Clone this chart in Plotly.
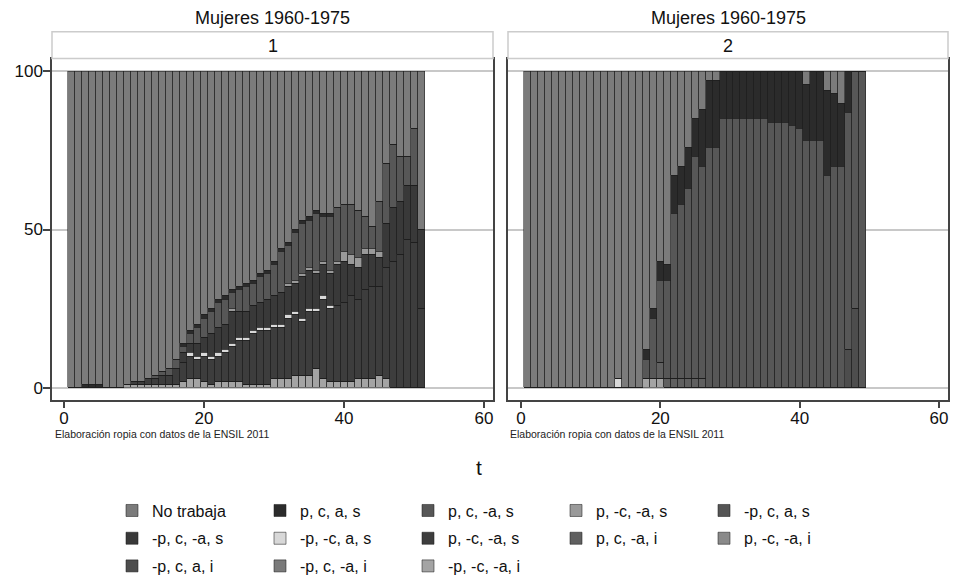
import plotly.graph_objects as go

# ---------------- data ----------------
categories = ["No trabaja", "p, c, a, s", "p, c, -a, s", "p, -c, -a, s", "-p, c, a, s",
              "-p, c, -a, s", "-p, -c, a, s", "p, -c, -a, s", "p, c, -a, i", "p, -c, -a, i",
              "-p, c, a, i", "-p, c, -a, i", "-p, -c, -a, i"]
colors = ["#7b7b7b", "#2b2b2b", "#575757", "#9a9a9a", "#555555",
          "#393939", "#d8d8d8", "#3d3d3d", "#606060", "#8a8a8a",
          "#4d4d4d", "#7a7a7a", "#a4a4a4"]

t_panel1 = list(range(1, 52))
t_panel2 = list(range(1, 50))
x_ticks = [0, 20, 40, 60]
y_ticks = [0, 50, 100]
panel_titles = ["Mujeres 1960-1975", "Mujeres 1960-1975"]
panel_labels = ["1", "2"]
note_text = "Elaboración ropia con datos de la ENSIL 2011"
x_title = "t"

# Panel 1 (cluster 1), percentages per state, t = 1..51
p1_c01 = [100, 100, 99, 99, 99, 100, 100, 100, 99, 98, 98, 97, 96, 95, 94, 91, 86, 82, 80, 77,
          75, 72, 71, 69, 68, 67, 66, 64, 63, 60, 56, 54, 50, 47, 46, 44, 45, 45, 43, 42,
          42, 44, 46, 49, 41, 29, 23, 27, 27, 18, 50]
p1_c02 = [0, 0, 1, 1, 1, 0, 0, 0, 0, 0, 0, 0, 0, 0, 0, 0, 1, 1, 1, 1,
          1, 1, 1, 1, 1, 1, 1, 1, 1, 1, 1, 1, 1, 1, 1, 1, 1, 1, 0, 0,
          0, 0, 0, 0, 0, 0, 0, 0, 0, 0, 0]
p1_c03 = [0, 0, 0, 0, 0, 0, 0, 0, 0, 0, 0, 0, 1, 1, 2, 3, 2, 3, 5, 6,
          7, 8, 8, 5, 7, 8, 7, 8, 8, 10, 13, 12, 15, 16, 15, 18, 14, 17, 17, 15,
          16, 15, 10, 7, 16, 19, 20, 14, 9, 18, 0]
p1_c04 = [0, 0, 0, 0, 0, 0, 0, 0, 0, 0, 0, 0, 0, 0, 0, 0, 0, 0, 0, 0,
          0, 0, 0, 1, 0, 0, 0, 0, 0, 0, 0, 1, 1, 1, 1, 1, 1, 1, 1, 3,
          3, 3, 2, 2, 2, 0, 0, 0, 0, 0, 0]
p1_c05 = [0] * 51
p1_c06 = [0, 0, 0, 0, 0, 0, 0, 0, 0, 0, 0, 0, 0, 0, 0, 0, 3, 3, 4, 5,
          7, 8, 8, 10, 8, 8, 8, 8, 9, 9, 10, 9, 9, 13, 12, 11, 10, 10, 13, 13,
          10, 10, 11, 10, 9, 14, 17, 17, 17, 18, 25]
p1_c07 = [0, 0, 0, 0, 0, 0, 0, 0, 0, 0, 0, 0, 0, 0, 0, 0, 0, 1, 1, 1,
          1, 1, 1, 1, 1, 1, 1, 1, 1, 1, 1, 1, 1, 1, 1, 1, 1, 1, 0, 0,
          0, 0, 0, 0, 0, 0, 0, 0, 0, 0, 0]
p1_c08 = [0, 0, 0, 0, 0, 0, 0, 0, 0, 1, 1, 2, 2, 3, 3, 5, 6, 7, 6, 8,
          8, 8, 9, 11, 13, 14, 16, 17, 17, 16, 16, 19, 19, 17, 20, 18, 25, 23, 24, 25,
          27, 25, 28, 29, 28, 35, 40, 42, 47, 46, 25]
p1_c09 = [0] * 51
p1_c10 = [0] * 51
p1_c11 = [0] * 51
p1_c12 = [0] * 51
p1_c13 = [0, 0, 0, 0, 0, 0, 0, 0, 1, 1, 1, 1, 1, 1, 1, 1, 2, 3, 3, 2,
          1, 2, 2, 2, 2, 1, 1, 1, 1, 3, 3, 3, 4, 4, 4, 6, 3, 2, 2, 2,
          2, 3, 3, 3, 4, 3, 0, 0, 0, 0, 0]

# Panel 2 (cluster 2), t = 1..49
p2_c01 = [100, 100, 100, 100, 100, 100, 100, 100, 100, 100, 100, 100, 100, 97, 100, 100, 100, 88, 75, 60,
          61, 33, 30, 24, 15, 12, 3, 3, 0, 0, 0, 0, 0, 0, 0, 0, 0, 0, 0, 0,
          4, 0, 0, 6, 7, 10, 0, 0, 0]
p2_c02 = [0, 0, 0, 0, 0, 0, 0, 0, 0, 0, 0, 0, 0, 0, 0, 0, 0, 3, 3, 6,
          5, 12, 12, 13, 12, 18, 21, 21, 15, 15, 15, 15, 15, 15, 15, 16, 16, 16, 17, 18,
          18, 22, 22, 27, 23, 20, 13, 0, 0]
p2_c03 = [0, 0, 0, 0, 0, 0, 0, 0, 0, 0, 0, 0, 0, 0, 0, 0, 0, 6, 19, 26,
          31, 52, 55, 60, 70, 67, 76, 76, 85, 85, 85, 85, 85, 85, 85, 84, 84, 84, 83, 82,
          78, 78, 78, 67, 70, 70, 75, 75, 100]
p2_c04 = [0] * 49
p2_c05 = [0] * 49
p2_c06 = [0] * 49
p2_c07 = [0, 0, 0, 0, 0, 0, 0, 0, 0, 0, 0, 0, 0, 3, 0, 0, 0, 0, 0, 0,
          0, 0, 0, 0, 0, 0, 0, 0, 0, 0, 0, 0, 0, 0, 0, 0, 0, 0, 0, 0,
          0, 0, 0, 0, 0, 0, 0, 0, 0]
p2_c08 = [0] * 49
p2_c09 = [0, 0, 0, 0, 0, 0, 0, 0, 0, 0, 0, 0, 0, 0, 0, 0, 0, 0, 0, 5,
          3, 3, 3, 3, 3, 3, 0, 0, 0, 0, 0, 0, 0, 0, 0, 0, 0, 0, 0, 0,
          0, 0, 0, 0, 0, 0, 0, 0, 0]
p2_c10 = [0] * 49
p2_c11 = [0, 0, 0, 0, 0, 0, 0, 0, 0, 0, 0, 0, 0, 0, 0, 0, 0, 0, 0, 0,
          0, 0, 0, 0, 0, 0, 0, 0, 0, 0, 0, 0, 0, 0, 0, 0, 0, 0, 0, 0,
          0, 0, 0, 0, 0, 0, 12, 25, 0]
p2_c12 = [0] * 49
p2_c13 = [0, 0, 0, 0, 0, 0, 0, 0, 0, 0, 0, 0, 0, 0, 0, 0, 0, 3, 3, 3,
          0, 0, 0, 0, 0, 0, 0, 0, 0, 0, 0, 0, 0, 0, 0, 0, 0, 0, 0, 0,
          0, 0, 0, 0, 0, 0, 0, 0, 0]

panel1 = [p1_c01, p1_c02, p1_c03, p1_c04, p1_c05, p1_c06, p1_c07,
          p1_c08, p1_c09, p1_c10, p1_c11, p1_c12, p1_c13]
panel2 = [p2_c01, p2_c02, p2_c03, p2_c04, p2_c05, p2_c06, p2_c07,
          p2_c08, p2_c09, p2_c10, p2_c11, p2_c12, p2_c13]

# ---------------- figure ----------------
W, H = 958, 583
FONT = "Liberation Sans, Arial, Helvetica, sans-serif"


def px(x):
    return x / W


def py(y):
    return 1 - y / H


fig = go.Figure()
legend_names = ["legend", "legend2", "legend3"]
outline = dict(color="rgba(30,30,30,0.6)", width=0.9)

# stacked bottom-up: last state at the bottom, "No trabaja" on top
for i in reversed(range(len(categories))):
    fig.add_trace(go.Bar(
        x=t_panel1, y=panel1[i], width=1, name=categories[i],
        marker=dict(color=colors[i], line=outline),
        xaxis="x", yaxis="y", legend=legend_names[i // 5], legendrank=i + 1,
        showlegend=True, hoverinfo="skip"))
    fig.add_trace(go.Bar(
        x=t_panel2, y=panel2[i], width=1, name=categories[i],
        marker=dict(color=colors[i], line=outline),
        xaxis="x2", yaxis="y2", showlegend=False, hoverinfo="skip"))

frame1 = (52, 493)
frame2 = (508, 948)
ftop, fbot = 60, 403
x0px = (64, 521)
xscale = (7.0, 6.967)
y0px, yscale = 391, 3.19

yrange = [(y0px - fbot) / yscale, (y0px - ftop) / yscale]
xr1 = [(frame1[0] - x0px[0]) / xscale[0], (frame1[1] - x0px[0]) / xscale[0]]
xr2 = [(frame2[0] - x0px[1]) / xscale[1], (frame2[1] - x0px[1]) / xscale[1]]

axis_common = dict(showline=True, mirror=True, linecolor="#444444", linewidth=1.5,
                   zeroline=False, tickfont=dict(size=17, color="#111111"))

fig.update_layout(
    width=W, height=H, margin=dict(l=0, r=0, t=0, b=0),
    barmode="stack", bargap=0, paper_bgcolor="white", plot_bgcolor="white",
    font=dict(family=FONT, color="#111111"),
    xaxis=dict(domain=[px(frame1[0]), px(frame1[1])], range=xr1, tickvals=x_ticks,
               ticks="outside", ticklen=7, tickwidth=1.5, tickcolor="#444444",
               ticklabelstandoff=-5, showgrid=False, **axis_common),
    xaxis2=dict(domain=[px(frame2[0]), px(frame2[1])], range=xr2, tickvals=x_ticks,
                ticks="outside", ticklen=7, tickwidth=1.5, tickcolor="#444444",
                ticklabelstandoff=-5, showgrid=False, **axis_common),
    yaxis=dict(domain=[py(fbot), py(ftop)], range=yrange, tickvals=y_ticks,
               ticks="outside", ticklen=7, tickwidth=1.5, tickcolor="#444444",
               ticklabelstandoff=-3,
               showgrid=True, gridcolor="#c8c8c8", gridwidth=1.5, anchor="x",
               **axis_common),
    yaxis2=dict(domain=[py(fbot), py(ftop)], range=yrange, tickvals=y_ticks,
                ticks="", showticklabels=False,
                showgrid=True, gridcolor="#c8c8c8", gridwidth=1.5, anchor="x2",
                **axis_common),
)

rows_y = [515, 543, 571]
for name, ry in zip(legend_names, rows_y):
    fig.update_layout({name: dict(
        orientation="h", entrywidth=103, entrywidthmode="pixels", traceorder="normal",
        x=px(112), xanchor="left", y=py(ry), yanchor="middle",
        bgcolor="rgba(0,0,0,0)", borderwidth=0,
        font=dict(size=16, color="#111111"), itemclick=False, itemdoubleclick=False)})

shapes = []
annotations = []
for (fx0, fx1), title, lab, note_x in zip([frame1, frame2], panel_titles, panel_labels, [53, 508]):
    shapes.append(dict(type="rect", xref="paper", yref="paper",
                       x0=px(fx0), x1=px(fx1), y0=py(59), y1=py(32),
                       line=dict(color="#cccccc", width=1.5), fillcolor="white"))
    cx = px((fx0 + fx1) / 2)
    annotations.append(dict(text=title, x=cx, y=py(18), xref="paper", yref="paper",
                            showarrow=False, font=dict(size=18, color="#111111"),
                            xanchor="center", yanchor="middle"))
    annotations.append(dict(text=lab, x=cx, y=py(46), xref="paper", yref="paper",
                            showarrow=False, font=dict(size=18, color="#111111"),
                            xanchor="center", yanchor="middle"))
    annotations.append(dict(text=note_text, x=px(note_x), y=py(438), xref="paper", yref="paper",
                            showarrow=False, font=dict(size=10.5, color="#222222"),
                            xanchor="left", yanchor="middle"))

annotations.append(dict(text=x_title, x=px(479), y=py(472), xref="paper", yref="paper",
                        showarrow=False, font=dict(size=21, color="#111111"),
                        xanchor="center", yanchor="middle"))

fig.update_layout(shapes=shapes, annotations=annotations)

fig.write_html("out.html", config={"displayModeBar": False},
               post_script="document.body.style.margin='0px';")
